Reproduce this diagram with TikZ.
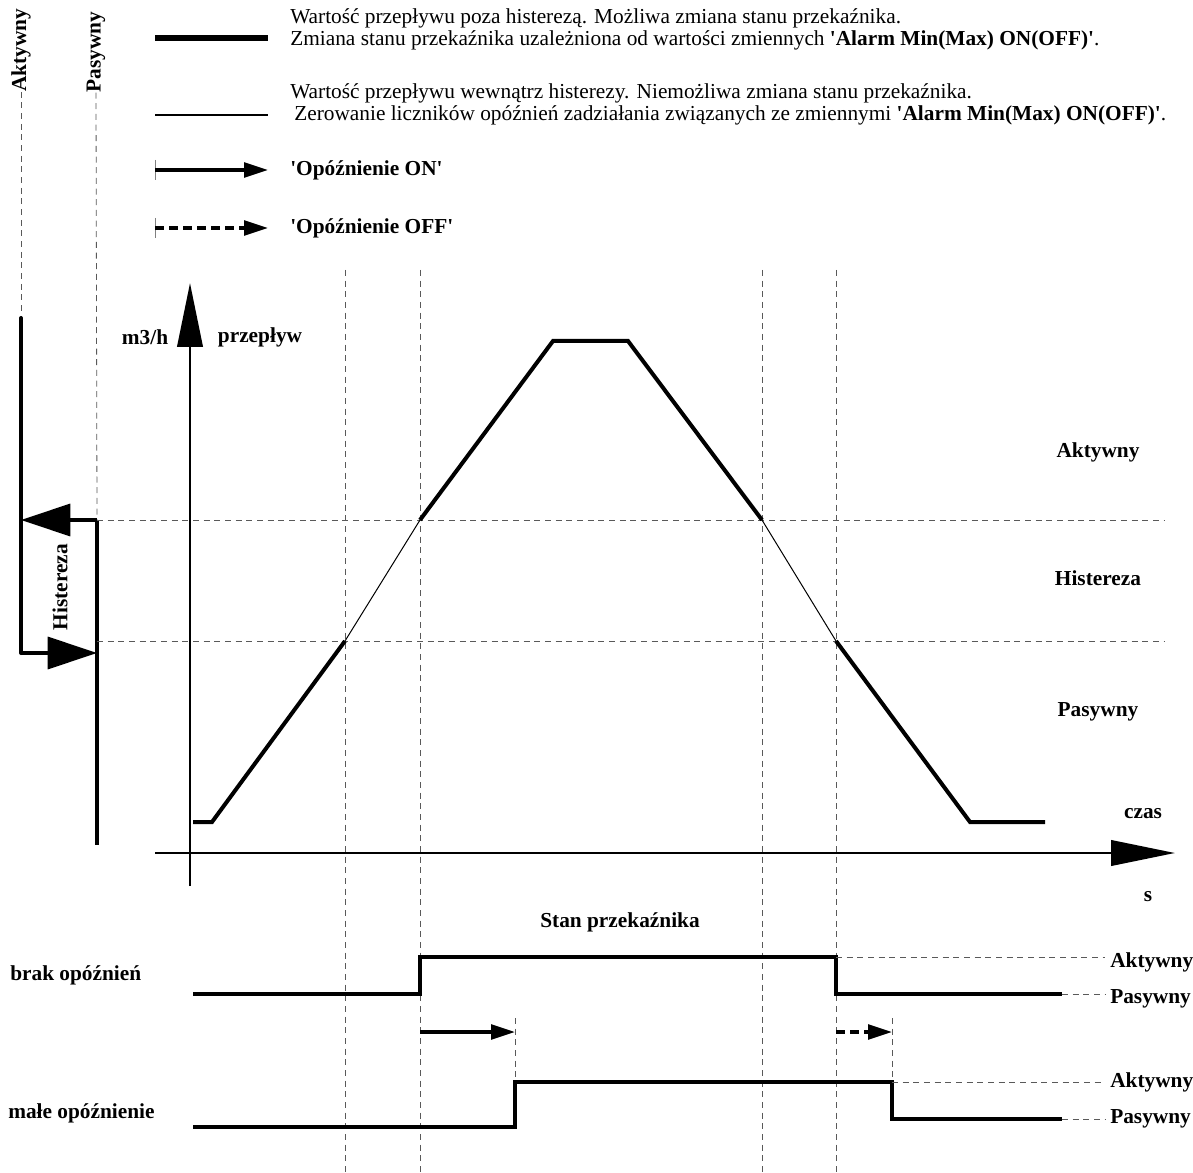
\documentclass[tikz,border=0pt]{standalone}
\usepackage{fontspec}
\setmainfont{Liberation Serif}
\usetikzlibrary{arrows.meta}
\newcommand{\q}{\textquotesingle}
\tikzset{
  thk/.style={line width=3pt},
  thn/.style={line width=0.75pt},
  guide/.style={draw=black!65,line width=0.6pt,dash pattern=on 4.5pt off 3.5pt},
  lbl/.style={font=\fontsize{16}{16.5}\selectfont\bfseries,inner sep=0pt},
  txt/.style={align=left,anchor=west,inner sep=0pt},
  axis/.style={line width=2.2pt,-{Triangle[length=48pt,width=19pt]}},
  hyst/.style={line width=2.6pt,-{Triangle[length=37pt,width=24pt]}},
  delay/.style={line width=2.7pt,-{Triangle[length=18pt,width=11pt]}},
  offdash/.style={dash pattern=on 6.5pt off 4pt}
}
\begin{document}
\begin{tikzpicture}[x=0.75pt,y=-0.75pt,font=\fontsize{16}{16.5}\selectfont]
\useasboundingbox (0,0) rectangle (1193,1173);
% legend
\draw[line width=3.8pt] (155,38) coordinate (l1a) -- (268,38) coordinate (l1b);
\node[txt] (l1t) at (290,29) {Wartość przepływu poza histerezą. Możliwa zmiana stanu przekaźnika.\\Zmiana stanu przekaźnika uzależniona od wartości zmiennych \textbf{\q Alarm Min(Max) ON(OFF)\q}.};
\draw[line width=2.2pt] (155,115) coordinate (l2a) -- (268,115) coordinate (l2b);
\node[txt] (l2t) at (290,104) {Wartość przepływu wewnątrz histerezy. Niemożliwa zmiana stanu przekaźnika.\\\hspace{3pt}Zerowanie liczników opóźnień zadziałania związanych ze zmiennymi \textbf{\q Alarm Min(Max) ON(OFF)\q}.};
\draw[draw=black!50,line width=0.5pt] (155,160) -- (155,180);
\draw[delay] (155,170) coordinate (l3a) -- (268,170) coordinate (l3b);
\node[lbl,anchor=west] (l3t) at (290,170) {\q Opóźnienie ON\q};
\draw[draw=black!50,line width=0.5pt] (155,218) -- (155,238);
\draw[delay,offdash] (155,228) coordinate (l4a) -- (268,228) coordinate (l4b);
\node[lbl,anchor=west] (l4t) at (290,228) {\q Opóźnienie OFF\q};

% hysteresis on the left
\node[lbl,rotate=90] (vakt) at (21,50) {Aktywny};
\node[lbl,rotate=90] (vpas) at (96,52) {Pasywny};
\coordinate (akttop) at (21,318);
\coordinate (aktlow) at (21,653);
\coordinate (pashi) at (97,520);
\coordinate (paslow) at (97,653);
\coordinate (pasbot) at (97,845);
\draw[guide] (vakt.west) -- (akttop);
\draw[guide] (vpas.west) -- (pashi);
\draw[thk,line cap=round] (akttop) -- (aktlow);
\draw[thk] (pashi) -- (pasbot);
\draw[hyst] (pashi) -- (21,520);
\draw[hyst] (aktlow) -- (paslow);
\node[lbl,rotate=90] (hyst) at (60,587) {Histereza};

% guides
\draw[guide] (pashi) -- (1165,520);
\draw[guide] (97,641) -- (1165,641);
\foreach \gx in {345,420,762,836}
  \draw[guide] (\gx,270) -- (\gx,1173);

% axes
\draw[axis] (190,886) coordinate (yo) -- (190,283) coordinate (ytip);
\draw[axis] (155,853) coordinate (xo) -- (1175,853) coordinate (xtip);
\node[lbl] (unit) at (145,337) {m3/h};
\node[lbl] (flow) at (260,337) {przepływ};
\node[lbl] (czas) at (1143,814) {czas};
\node[lbl] (sec) at (1148,897) {s};
\node[lbl] (zakt) at (1098,452) {Aktywny};
\node[lbl] (zhis) at (1098,578) {Histereza};
\node[lbl] (zpas) at (1098,712) {Pasywny};

% flow curve
\coordinate (p0) at (193,822);
\coordinate (p1) at (212,822);
\coordinate (p2) at (345,641);
\coordinate (p3) at (420,520);
\coordinate (p4) at (553,341);
\coordinate (p5) at (628,341);
\coordinate (p6) at (762,520);
\coordinate (p7) at (836,641);
\coordinate (p8) at (970,822);
\coordinate (p9) at (1045,822);
\draw[thk] (p0) -- (p1) -- (p2);
\draw[thn] (p2) -- (p3);
\draw[thk] (p3) -- (p4) -- (p5) -- (p6);
\draw[thn] (p6) -- (p7);
\draw[thk] (p7) -- (p8) -- (p9);

% relay state
\node[lbl] (stan) at (620,922) {Stan przekaźnika};
\node[lbl,anchor=west] (brak) at (10,975) {brak opóźnień};
\node[lbl,anchor=west] (male) at (8,1113) {małe opóźnienie};
\draw[thk] (193,994) -- (420,994) -- (420,957) -- (836,957) -- (836,994) -- (1062,994);
\draw[guide] (836,957) -- (1105,957);
\draw[guide] (1062,994) -- (1105,994);
\node[lbl,anchor=west] (bakt) at (1110,962) {Aktywny};
\node[lbl,anchor=west] (bpas) at (1110,999) {Pasywny};
\draw[guide] (515,1018) -- (515,1082);
\draw[guide] (892,1018) -- (892,1082);
\draw[delay] (420,1032) -- (515,1032);
\draw[delay,offdash] (836,1032) -- (892,1032);
\draw[thk] (193,1127) -- (515,1127) -- (515,1082) -- (892,1082) -- (892,1119) -- (1062,1119);
\draw[guide] (892,1082) -- (1105,1082);
\draw[guide] (1062,1119) -- (1105,1119);
\node[lbl,anchor=west] (makt) at (1110,1082) {Aktywny};
\node[lbl,anchor=west] (mpas) at (1110,1119) {Pasywny};
\end{tikzpicture}
\end{document}
